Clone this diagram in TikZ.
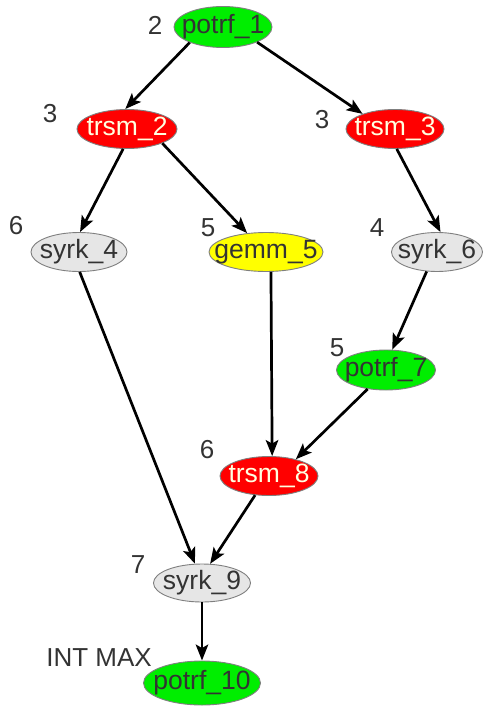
\documentclass[tikz,border=0pt]{standalone}
\usepackage{fontspec}
\setmainfont{Liberation Sans}
\usetikzlibrary{shapes.geometric,arrows.meta}

\definecolor{txtgray}{HTML}{333333}
\definecolor{nodeline}{HTML}{7F7F7F}
\definecolor{potrfgreen}{HTML}{00EE00}
\definecolor{trsmred}{HTML}{FF0000}
\definecolor{gemmyellow}{HTML}{FFFF00}
\definecolor{syrkgray}{HTML}{E6E6E6}
\definecolor{lighttext}{HTML}{FFFFE0}

\tikzset{
  task/.style 2 args={ellipse, draw=nodeline, line width=0.9pt,
    inner xsep=-20pt, inner ysep=-3pt,
    minimum width=#1, minimum height=#2,
    font=\fontsize{26.5}{30}\selectfont, text=txtgray},
  potrf/.style={fill=potrfgreen},
  trsm/.style={fill=trsmred, text=lighttext},
  gemm/.style={fill=gemmyellow},
  syrk/.style={fill=syrkgray},
  prio/.style={font=\fontsize{26}{30}\selectfont, text=txtgray, inner sep=0pt},
  dep/.style={line width=2.7pt, -{Stealth[length=16pt, width=12.5pt, inset=3.5pt]}},
}

\begin{document}
\begin{tikzpicture}[x=1pt, y=-1pt]
\useasboundingbox (0,0) rectangle (483,706);

% tasks
\node[task={98pt}{41pt}, potrf] (n1) at (223,27) {potrf\_1};
\node[task={100pt}{39pt}, trsm] (n2) at (127,129) {trsm\_2};
\node[task={98pt}{39pt}, trsm] (n3) at (395,129) {trsm\_3};
\node[task={96pt}{39pt}, syrk] (n4) at (79,252) {syrk\_4};
\node[task={114pt}{39pt}, gemm] (n5) at (266,252) {gemm\_5};
\node[task={91pt}{39pt}, syrk] (n6) at (437,252) {syrk\_6};
\node[task={99pt}{40pt}, potrf] (n7) at (386,370) {potrf\_7};
\node[task={98pt}{39pt}, trsm] (n8) at (269,476) {trsm\_8};
\node[task={97pt}{38pt}, syrk] (n9) at (202,583) {syrk\_9};
\node[task={117pt}{44pt}, potrf] (n10) at (202,683) {potrf\_10};

% priorities
\node[prio] (p1) at (155,25) {2};
\node[prio] (p2) at (50,114) {3};
\node[prio] (p3) at (322,120) {3};
\node[prio] (p4) at (16,226) {6};
\node[prio] (p5) at (208,228) {5};
\node[prio] (p6) at (377,228) {4};
\node[prio] (p7) at (337,348) {5};
\node[prio] (p8) at (207,450) {6};
\node[prio] (p9) at (138,565) {7};
\node[prio] (p10) at (99,658) {INT MAX};

% dependencies
\draw[dep] (n1.-155) -- (n2.95);
\draw[dep] (n1.-24) -- (n3.155);
\draw[dep] (n2.-101) -- (n4.87);
\draw[dep] (n2.-22) -- (n5.135);
\draw[dep] (n3.-85) -- (n6.80);
\draw[dep] (n6.-118) -- (n7.73);
\draw[dep] (n4.-88) -- (n9.110);
\draw[dep] (n5.-76) -- (n8.81);
\draw[dep] (n7.-134) -- (n8.32);
\draw[dep] (n8.-126) -- (n9.67);
\draw[dep] (n9.-90) -- (n10.90);
\end{tikzpicture}
\end{document}
